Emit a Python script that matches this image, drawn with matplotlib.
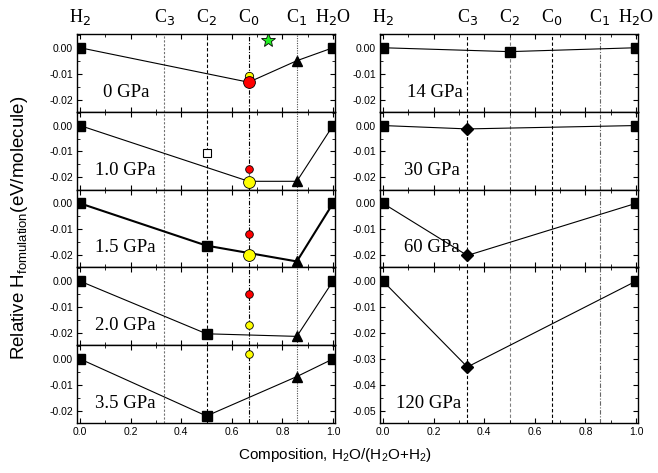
import matplotlib
matplotlib.use("Agg")
import matplotlib.pyplot as plt
from matplotlib.ticker import MultipleLocator, FormatStrFormatter

plt.rcParams['axes.unicode_minus'] = False
plt.rcParams['font.family'] = ['Liberation Sans', 'DejaVu Sans']

# Phase compositions
comp_names = ["H$_2$", "C$_3$", "C$_2$", "C$_0$", "C$_1$", "H$_2$O"]
comp_x = [0.0, 1/3, 0.5, 2/3, 6/7, 1.0]

# Left column: low pressures
left_labels = ["0 GPa", "1.0 GPa", "1.5 GPa", "2.0 GPa", "3.5 GPa"]
left_hull_x = [[0.0, 2/3, 6/7, 1.0],
               [0.0, 2/3, 6/7, 1.0],
               [0.0, 0.5, 6/7, 1.0],
               [0.0, 0.5, 6/7, 1.0],
               [0.0, 0.5, 6/7, 1.0]]
left_hull_y = [[0.0, -0.0133, -0.0050, 0.0],
               [0.0, -0.0215, -0.0215, 0.0],
               [0.0, -0.0163, -0.0224, 0.0],
               [0.0, -0.0203, -0.0213, 0.0],
               [0.0, -0.0220, -0.0068, 0.0]]
left_hull_lw = [0.8, 0.8, 1.5, 0.8, 0.8]
# C2 (x = 0.5) values, filled square (None = absent)
c2_filled = [None, None, -0.0163, -0.0203, -0.0220]
c2_open = [None, -0.0107, None, None, None]
# C0 (x = 2/3) red and yellow circle values
c0_red = [-0.0133, -0.0166, -0.0118, -0.0048, None]
c0_yellow = [-0.0108, -0.0216, -0.0201, -0.0170, 0.0018]
red_size = [8.5, 5.5, 5.5, 5.5, 5.5]
yellow_size = [6.0, 8.5, 8.5, 5.5, 5.5]
# C1 (x = 6/7) triangle values
c1_tri = [-0.0050, -0.0213, -0.0224, -0.0213, -0.0068]
# green star (0 GPa)
star_x = 0.743
star_y = 0.0030

# Right column: high pressures
right_labels = ["14 GPa", "30 GPa", "60 GPa", "120 GPa"]
right_min_x = [0.5, 1/3, 1/3, 1/3]
right_min_y = [-0.0015, -0.0013, -0.0201, -0.0331]
right_marker = ['s', 'D', 'D', 'D']

fig = plt.figure(figsize=(6.58, 4.73), dpi=100)
W, H = 658, 473
top_px, bot_px = 34, 423
ph = (bot_px - top_px) / 5.0


def make_ax(x0, y_top, nrows):
    return fig.add_axes([x0 / W, 1 - (y_top + nrows * ph) / H, 258 / W, nrows * ph / H])


vstyles_left = [((0, (2, 1.5)), '0.45'), ((0, (3, 2)), 'k'), ((0, (4, 1.5, 1, 1.5)), 'k'), ((0, (1, 1.2)), '0.3')]
vstyles_right = [((0, (3, 2)), 'k'), ((0, (3, 2)), '0.5'), ((0, (3, 2)), 'k'), ((0, (4, 1.5, 1, 1.5)), '0.4')]


def style(ax, bottom, ylim, vstyles):
    ax.set_xlim(-0.012, 1.008)
    ax.set_ylim(*ylim)
    for xv, (ls, c) in zip(comp_x[1:5], vstyles):
        ax.axvline(xv, color=c, lw=0.8, ls=ls, zorder=1)
    ax.xaxis.set_major_locator(MultipleLocator(0.2))
    ax.xaxis.set_minor_locator(MultipleLocator(0.1))
    ax.yaxis.set_major_locator(MultipleLocator(0.01))
    ax.yaxis.set_minor_locator(MultipleLocator(0.005))
    ax.yaxis.set_major_formatter(FormatStrFormatter('%.2f'))
    ax.xaxis.set_major_formatter(FormatStrFormatter('%.1f'))
    ax.tick_params(which='both', direction='in', top=True, right=True, labelsize=7.5, pad=3)
    ax.tick_params(which='major', length=3.5, width=0.8)
    ax.tick_params(which='minor', length=2, width=0.6)
    if not bottom:
        ax.tick_params(labelbottom=False)
    for s in ax.spines.values():
        s.set_linewidth(1.0)


serif = ['Liberation Serif', 'DejaVu Serif']
ms_end = 6.5

for i in range(5):
    ax = make_ax(77, top_px + i * ph, 1)
    style(ax, i == 4, (-0.0247, 0.0053), vstyles_left)
    ax.plot(left_hull_x[i], left_hull_y[i], color='k', lw=left_hull_lw[i], zorder=2)
    ax.plot([0.0, 1.0], [0.0, 0.0], 's', color='k', ms=ms_end, zorder=4, clip_on=True)
    if c2_filled[i] is not None:
        ax.plot(0.5, c2_filled[i], 's', color='k', ms=7.5, zorder=4)
    if c2_open[i] is not None:
        ax.plot(0.5, c2_open[i], 's', mfc='white', mec='k', mew=0.8, ms=5.5, zorder=4)
    if c0_yellow[i] is not None:
        ax.plot(2/3, c0_yellow[i], 'o', mfc='#ffff00', mec='k', mew=0.6, ms=yellow_size[i], zorder=5)
    if c0_red[i] is not None:
        ax.plot(2/3, c0_red[i], 'o', mfc='#ff0000', mec='k', mew=0.6, ms=red_size[i], zorder=6)
    ax.plot(6/7, c1_tri[i], '^', color='k', ms=7, zorder=4)
    if i == 0:
        ax.plot(star_x, star_y, '*', mfc='#22ee22', mec='k', mew=0.6, ms=10, zorder=5)
    ax.text(0.06 if i > 0 else 0.09, left_hull_y[i][0] - 0.0172, left_labels[i],
            family=serif, fontsize=13.5, va='center', ha='left')

for i in range(4):
    nrows = 2 if i == 3 else 1
    ax = make_ax(380, top_px + i * ph, nrows)
    ylim = (-0.0547, 0.0053) if i == 3 else (-0.0247, 0.0053)
    style(ax, i == 3, ylim, vstyles_right)
    ax.plot([0.0, right_min_x[i], 1.0], [0.0, right_min_y[i], 0.0], color='k', lw=0.8, zorder=2)
    ax.plot([0.0, 1.0], [0.0, 0.0], 's', color='k', ms=ms_end, zorder=4)
    ax.plot(right_min_x[i], right_min_y[i], right_marker[i], color='k',
            ms=7.5 if right_marker[i] == 's' else 6.5, zorder=4)
    ly = -0.0472 if i == 3 else -0.0172
    lx = 0.053 if i == 3 else (0.094 if i == 0 else 0.082)
    ax.text(lx, ly, right_labels[i], family=serif, fontsize=13.5, va='center', ha='left')

# composition labels on top
for x0 in (77, 380):
    for name, xv in zip(comp_names, comp_x):
        px = x0 + (xv + 0.012) / 1.02 * 258
        fig.text(px / W, 1 - 17 / H, name, family=serif, fontsize=13, ha='center', va='center')

fig.text(20 / W, 1 - 228 / H, "Relative H$_{\\mathregular{fomulation}}$(eV/molecule)",
         rotation=90, ha='center', va='center', fontsize=13.5)
fig.text(335 / W, 1 - 455 / H, "Composition, H$_{\\mathregular{2}}$O/(H$_{\\mathregular{2}}$O+H$_{\\mathregular{2}}$)",
         ha='center', va='center', fontsize=11)

fig.savefig("out.png", dpi=100)
